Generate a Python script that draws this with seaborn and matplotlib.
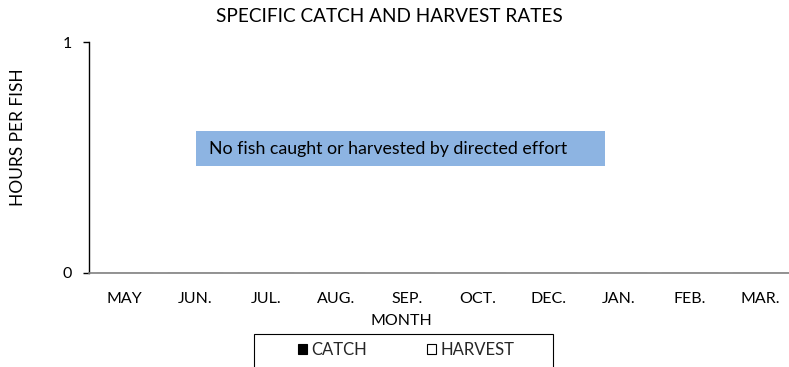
import matplotlib
matplotlib.use("Agg")
import matplotlib.pyplot as plt
from matplotlib.patches import Rectangle
from matplotlib.ticker import FixedLocator
import numpy as np
import pandas as pd
import seaborn as sns

# Monthly rates (hours per fish); no fish were caught or kept, so all are zero
months = ["MAY", "JUN.", "JUL.", "AUG.", "SEP.", "OCT.", "DEC.", "JAN.", "FEB.", "MAR."]
catch_rate = [0, 0, 0, 0, 0, 0, 0, 0, 0, 0]
harvest_rate = [0, 0, 0, 0, 0, 0, 0, 0, 0, 0]
series_names = ["CATCH", "HARVEST"]
y_ticks = [0, 1]

df = pd.DataFrame({
    "month": months * 2,
    "rate": catch_rate + harvest_rate,
    "series": [series_names[0]] * len(months) + [series_names[1]] * len(months),
})

sns.set_theme(style="white")
plt.rcParams["font.family"] = ["Lato", "DejaVu Sans"]

W, H = 789, 367
fig = plt.figure(figsize=(W / 100, H / 100), dpi=100)
ax_w = 706.7
ax = fig.add_axes([89 / W, (H - 273) / H, ax_w / W, 231 / H])

sns.barplot(data=df, x="month", y="rate", hue="series", order=months,
            hue_order=series_names, palette=["black", "white"],
            edgecolor="black", linewidth=0.8, ax=ax)

handles, labels = ax.get_legend_handles_labels()
if ax.get_legend() is not None:
    ax.get_legend().remove()

ax.set_xlim(-0.5, len(months) - 0.5)
ax.set_ylim(0, 1)
ax.set_yticks(y_ticks)
ax.set_yticklabels([str(t) for t in y_ticks], fontsize=11.5, color="black")
ax.set_xticks(range(len(months)))
ax.set_xticklabels(months, fontsize=11.5, color="black")
ax.tick_params(axis="x", which="major", length=0, pad=14)
ax.xaxis.set_minor_locator(FixedLocator(np.arange(0.5, len(months) - 0.5, 1)))
ax.tick_params(axis="x", which="minor", direction="in", length=4, width=1, color="#808080")
ax.tick_params(axis="y", direction="out", length=4, width=1, color="black", pad=8, left=True)

for side in ("top", "right"):
    ax.spines[side].set_visible(False)
ax.spines["left"].set_color("black")
ax.spines["left"].set_linewidth(1)
ax.spines["bottom"].set_color("#808080")
ax.spines["bottom"].set_linewidth(1.2)
ax.grid(False)

ax.set_xlabel("MONTH", fontsize=11.5, color="black")
ax.xaxis.set_label_coords((401 - 89) / ax_w, -(314 - 273) / 231)
ax.set_ylabel("HOURS PER FISH", fontsize=12.5, color="black")
ax.yaxis.set_label_coords((26 - 89) / ax_w, (273 - 137) / 231)

fig.text(389 / W, 1 - 17 / H, "SPECIFIC CATCH AND HARVEST RATES", ha="center",
         va="center", fontsize=13.7, color="black")

# Note box inside the plotting area
ax.add_patch(Rectangle((0.1514, 0.463), 0.5786, 0.152, transform=ax.transAxes,
                       facecolor="#8DB4E2", edgecolor="none", zorder=5))
ax.text((209 - 89) / ax_w, (273 - 149) / 231, "No fish caught or harvested by directed effort",
        transform=ax.transAxes, ha="left", va="center", fontsize=12.8, color="black", zorder=6)

# Framed legend below the axis title
fig.patches.append(Rectangle((254 / W, (H - 372) / H), 299 / W, 38 / H,
                             transform=fig.transFigure, facecolor="white",
                             edgecolor="black", linewidth=0.8))
fig.legend(handles, labels, loc="center", bbox_to_anchor=(406 / W, 1 - 350 / H),
           ncol=2, frameon=False, fontsize=12, handlelength=0.55, handleheight=0.55,
           handletextpad=0.25, columnspacing=3.6)

fig.savefig("out.png", dpi=100)
